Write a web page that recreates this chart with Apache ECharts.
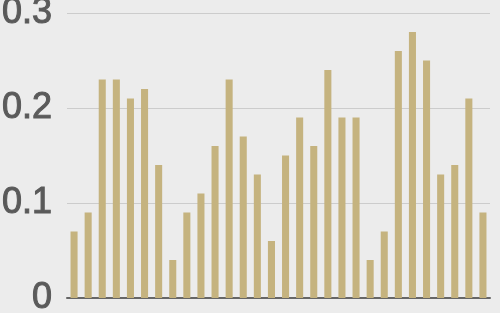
<!DOCTYPE html>
<html>
<head>
<meta charset="utf-8">
<script src="https://cdn.jsdelivr.net/npm/echarts@6/dist/echarts.min.js"></script>
<style>
html,body{margin:0;padding:0;background:#ececec;}
#chart{width:500px;height:313px;}
</style>
</head>
<body>
<div id="chart"></div>
<script>
var categories = [];
for (var i = 1; i <= 30; i++) categories.push(String(i));
var values = [0.07, 0.09, 0.23, 0.23, 0.21, 0.22, 0.14, 0.04, 0.09, 0.11,
              0.16, 0.23, 0.17, 0.13, 0.06, 0.15, 0.19, 0.16, 0.24, 0.19,
              0.19, 0.04, 0.07, 0.26, 0.28, 0.25, 0.13, 0.14, 0.21, 0.09];
var yTicks = [0, 0.1, 0.2, 0.3];

var chart = echarts.init(document.getElementById('chart'), null, {renderer: 'canvas'});
chart.setOption({
  backgroundColor: '#ececec',
  animation: false,
  grid: {left: 67, right: 10, top: 13, bottom: 15, containLabel: false, outerBoundsMode: 'none'},
  xAxis: {
    type: 'category',
    data: categories,
    axisLine: {show: true, lineStyle: {color: '#666666', width: 2}},
    axisTick: {show: false},
    axisLabel: {show: false},
    splitLine: {show: false}
  },
  yAxis: {
    type: 'value',
    min: yTicks[0],
    max: yTicks[yTicks.length - 1],
    interval: 0.1,
    axisLine: {show: false},
    axisTick: {show: false},
    axisLabel: {
      margin: 15,
      color: '#5a5a5a',
      fontSize: 36,
      fontFamily: 'Liberation Sans, Arial, sans-serif',
      textBorderColor: '#5a5a5a',
      textBorderWidth: 1,
      padding: [4, 0, 0, 0],
      formatter: function (v) { return String(Math.round(v * 10) / 10); }
    },
    splitLine: {lineStyle: {color: '#cccccc', width: 1}}
  },
  series: [{
    type: 'bar',
    data: values,
    barWidth: '50%',
    itemStyle: {color: '#c5b37f'}
  }]
});
</script>
</body>
</html>
